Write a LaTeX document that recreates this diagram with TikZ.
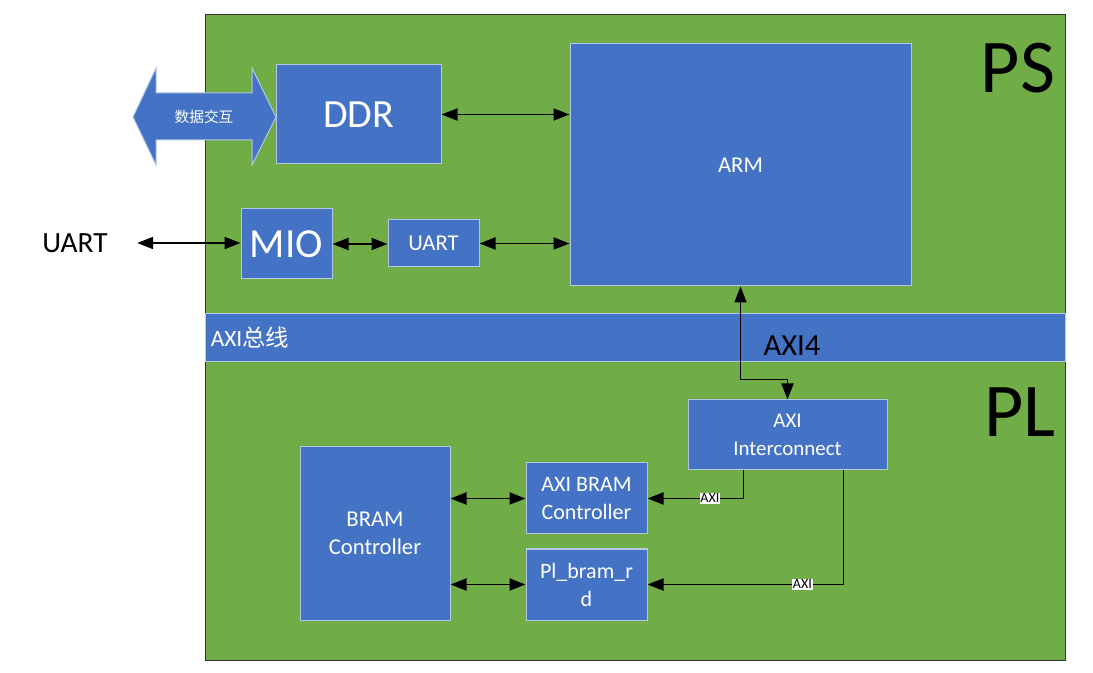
\documentclass[tikz,border=0pt]{standalone}
\usepackage{fontspec}
\setmainfont{Carlito}
\newfontfamily\cjk{Noto Sans CJK SC}
\usetikzlibrary{positioning,calc,arrows.meta}
\definecolor{zgreen}{HTML}{70AD47}
\definecolor{zblue}{HTML}{4472C4}
\definecolor{zedge}{HTML}{B4C7E7}

\begin{document}
\begin{tikzpicture}
    [x=0.75pt, y=-0.75pt,
    sz/.style 2 args={minimum width=#1*0.75pt, minimum height=#2*0.75pt},
    block/.style={draw=zedge, line width=0.75pt, fill=zblue, inner sep=0pt, text=white, align=center},
    panel/.style={draw=black!80, line width=0.75pt, fill=zgreen, inner sep=0pt},
    link/.style={line width=1.4pt, {Triangle[length=12pt,width=9pt]}-{Triangle[length=12pt,width=9pt]}},
    feed/.style={line width=1.4pt, -{Triangle[length=12pt,width=9pt]}},
    axitag/.style={fill=white, inner sep=0.6pt, font=\fontsize{10.5}{10.5}\selectfont},
    plain/.style={inner sep=0pt}]
    \useasboundingbox (0,0) rectangle (1093,673);

    % PS / PL area and the bus
    \node [panel, sz={860}{645}] (zynq) at (635,337.5) {};
    \node [block, sz={860}{48}] (axibus) at (635,338) {};
    \node [plain, text=white, font=\fontsize{17.5}{20}\selectfont, right=4.5pt of axibus.west] (busname) {AXI{\cjk 总线}};
    \node [plain, font=\fontsize{57}{60}\selectfont] (ps) at (1018,68) {PS};
    \node [plain, font=\fontsize{57}{60}\selectfont] (pl) at (1020,412) {PL};

    % PS side
    \draw [draw=zedge, line width=0.75pt, fill=zblue] (133,117) -- (156,68) -- (156,93) -- (252,93) -- (252,68)
        -- (276,117) -- (252,165) -- (252,140) -- (156,140) -- (156,165) -- cycle;
    \node [plain, text=white, font=\cjk\fontsize{11}{11}\selectfont] (xchg) at (204,117) {数据交互};
    \node [block, font=\fontsize{30}{36}\selectfont, sz={165}{99}] (ddr) at (358.5,114.5) {DDR};
    \node [block, font=\fontsize{17}{20}\selectfont, sz={341}{242}] (arm) at (740.5,165) {ARM};
    \node [block, font=\fontsize{31}{36}\selectfont, sz={91}{70}] (mio) at (286.5,244) {MIO};
    \node [block, font=\fontsize{17}{20}\selectfont, sz={91}{47}] (uart) at (433.5,243.5) {UART};
    \node [plain, font=\fontsize{22}{26}\selectfont] (uartin) at (75,243) {UART};

    % PL side
    \node [block, font=\fontsize{15.7}{21}\selectfont, sz={199}{70}] (intc) at (787.5,435) {AXI\\Interconnect};
    \node [block, font=\fontsize{17}{21}\selectfont, sz={150}{173}] (bram) at (375,533.5) {BRAM\\Controller};
    \node [block, font=\fontsize{16.5}{21}\selectfont, sz={121}{71}] (abc) at (586.5,498.5) {AXI BRAM\\Controller};
    \node [block, font=\fontsize{16.5}{21}\selectfont, sz={121}{71}] (pbr) at (586.5,584.5) {Pl\_bram\_r\\d};
    \node [plain, font=\fontsize{23}{26}\selectfont] (axifour) at (792,346) {AXI4};

    % connectors
    \draw [link] (ddr.east) -- (ddr.east -| arm.west);
    \draw [link, shorten <=22pt] (uartin.east) -- (uartin.east -| mio.west);
    \draw [link] (mio.east) -- (mio.east -| uart.west);
    \draw [link] (uart.east) -- (uart.east -| arm.west);
    \draw [link] (arm.south) |- ($(intc.north)+(0,-20)$) -- (intc.north);
    \draw [feed] ($(intc.south west)!0.28!(intc.south east)$) |- (abc.east) node [axitag, pos=0.675] {AXI};
    \draw [feed] ($(intc.south west)!0.78!(intc.south east)$) |- (pbr.east) node [axitag, pos=0.605] {AXI};
    \draw [link] (bram.east |- abc.west) -- (abc.west);
    \draw [link] (bram.east |- pbr.west) -- (pbr.west);
\end{tikzpicture}
\end{document}
